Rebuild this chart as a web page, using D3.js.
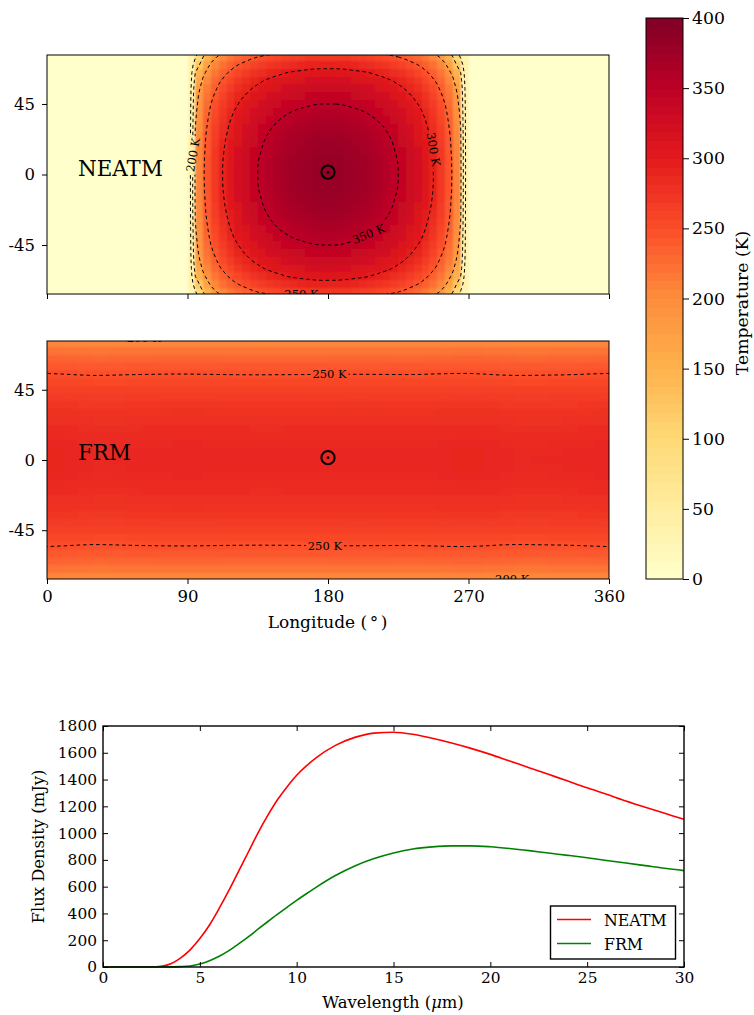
<!DOCTYPE html>
<html><head><meta charset="utf-8">
<script src="https://cdn.jsdelivr.net/npm/d3@7"></script>
<style>
html,body{margin:0;padding:0;background:#fff}
text{font-family:"DejaVu Serif",serif;fill:#000}
svg{display:block}
</style></head><body>
<svg id="chart" width="754" height="1015"></svg>
<script>
// ---------- DATA ----------
const latBands = [0,5,10,15,20,25,30,35,40,45,50,55,60,65,70,75,80];
const sunOffsets = [0,5,10,15,20,25,30,35,40,45,50,55,60,65,70,75,80,85,90];
// NEATM surface temperature (K): rows = |latitude|, columns = |longitude - 180|
const neatmTemps = [
[382,382,381,379,376,373,369,363,357,350,342,332,321,308,292,272,247,208,35],
[382,381,380,378,376,372,368,363,357,350,342,332,321,308,292,272,246,207,35],
[381,380,379,377,375,371,367,362,356,349,341,331,320,307,291,271,246,207,35],
[379,378,377,375,373,369,365,360,354,347,339,330,318,305,290,270,244,206,35],
[376,376,375,373,370,367,363,358,352,345,337,327,316,303,288,268,243,204,35],
[373,372,371,369,367,364,360,355,349,342,334,324,313,300,285,266,241,203,35],
[369,368,367,365,363,360,355,351,345,338,330,321,310,297,282,263,238,200,35],
[363,363,362,360,358,355,351,346,340,333,325,316,306,293,278,259,235,197,35],
[357,357,356,354,352,349,345,340,334,328,320,311,301,288,273,255,231,194,35],
[350,350,349,347,345,342,338,333,328,321,314,305,295,282,268,250,226,190,35],
[342,342,341,339,337,334,330,325,320,314,306,298,288,276,262,244,221,186,35],
[332,332,331,330,327,324,321,316,311,305,298,289,280,268,254,237,215,178,35],
[321,321,320,318,316,313,310,306,301,295,288,280,270,259,246,229,205,165,35],
[308,308,307,305,303,301,297,293,288,282,276,268,259,248,236,218,193,150,35],
[292,292,291,290,288,285,282,278,273,268,262,254,246,236,223,205,172,125,35],
[273,272,271,270,268,266,263,259,255,250,244,237,229,220,205,185,150,95,30],
[247,246,246,244,243,241,238,235,231,226,221,215,207,195,175,160,130,80,25]
];
// FRM temperature (K) per |latitude| and its small change with longitude (every 10 deg)
const frmTemps = [287,286.7,285.9,284.5,282.6,280,276.9,273,268.5,263.2,257,249.8,241.3,231.4,219.5,204.7,194];
const frmLons = [0,10,20,30,40,50,60,70,80,90,100,110,120,130,140,150,160,170,180,190,200,210,220,230,240,250,260,270,280,290,300,310,320,330,340,350,360];
const frmLonChange = [1,.3,-.5,-1,-.8,-.4,-.1,.1,.3,.3,.1,-.1,-.3,-.4,-.4,-.3,-.2,-.1,0,.1,.1,0,-.1,-.2,0,.5,.9,1,.3,-.6,-1,-.9,-.7,-.5,-.1,.5,1];
const contourLevels = [100,150,200,250,300,350];
const subSolar = [180,1.5];

const neatmLabels = [
  {text:"200 K",lon:93.5,lat:12.5,rot:-80},
  {text:"300 K",lon:247.5,lat:16,rot:80},
  {text:"350 K",lon:206,lat:-38,rot:-22},
  {text:"250 K",lon:163,lat:-76.5,rot:0}
];
const frmLabels = [
  {text:"250 K",lon:181,lat:55,rot:0},
  {text:"250 K",lon:178,lat:-55,rot:0},
  {text:"200 K",lon:298,lat:-76.5,rot:0},
  {text:"200 K",lon:62,lat:78,rot:0}
];

const lonTicks = [0,90,180,270,360];
const latTicks = [-45,0,45];
const cbarTicks = [0,50,100,150,200,250,300,350,400];
const ylOrRd = ["#ffffcc","#ffeda0","#fed976","#feb24c","#fd8d3c","#fc4e2a","#e31a1c","#bd0026","#800026"];

const wavelengths = [0,1,2,2.5,3,3.5,4,4.5,5,5.5,6,6.5,7,7.5,8,8.5,9,9.5,10,10.5,11,12,13,14,15,16,17,18,19,20,21,22,23,24,25,26,27,28,29,30];
const neatmFlux = [0,0,0,0,5,25,67,128,212,314,438,572,715,857,1000,1130,1247,1345,1432,1502,1562,1655,1715,1747,1753,1738,1708,1673,1633,1588,1538,1489,1439,1389,1338,1290,1240,1193,1148,1103];
const frmFlux = [0,0,0,0,0,1,3,8,22,47,80,122,172,225,282,338,393,446,497,547,595,683,755,810,852,881,897,905,905,898,885,869,851,834,816,796,777,757,737,720];
const fluxTicks = [0,200,400,600,800,1000,1200,1400,1600,1800];
const waveTicks = [0,5,10,15,20,25,30];
const legendNames = ["NEATM","FRM"];
const legendColors = ["#ff0000","#008000"];

// ---------- HELPERS ----------
const svg = d3.select("#chart");
const color = d3.scaleLinear().domain(d3.range(9).map(i=>i*50)).range(ylOrRd).interpolate(d3.interpolateRgb).clamp(true);
const FS = 16.5;
const xs = (x0,x1)=>d3.scaleLinear().domain([0,360]).range([x0,x1]);

function styleAxis(g){
  g.selectAll("path.domain").remove();
  g.selectAll("line").attr("stroke","#000").attr("stroke-width",1);
  g.selectAll("text").attr("font-size",FS).attr("font-family","DejaVu Serif").attr("fill","#000");
}

const rootDefs=svg.append("defs");
rootDefs.append("filter").attr("id","soft").attr("filterUnits","userSpaceOnUse")
  .attr("x",0).attr("y",0).attr("width",754).attr("height",700)
  .append("feGaussianBlur").attr("stdDeviation",.8);

function drawMap(id,top,bottom,grid,lonList,cells,labels,name,showLonLabels){
  const left=47,right=609;
  const x=xs(left,right);
  const y=d3.scaleLinear().domain([-76.25,76.25]).range([bottom,top]);
  const g=svg.append("g").attr("id",id);
  const clipId="clip-"+id, maskId="mask-"+id;
  const defs=g.append("defs");
  defs.append("clipPath").attr("id",clipId).append("rect").attr("x",left).attr("y",top).attr("width",right-left).attr("height",bottom-top);
  const plot=g.append("g").attr("clip-path",`url(#${clipId})`);
  plot.append("g").attr("filter","url(#soft)").selectAll("rect").data(cells).join("rect")
    .attr("x",d=>x(d.lon0)-(d.lon0===0?8:0)).attr("width",d=>x(d.lon1)-x(d.lon0)+(d.lon0===0||d.lon1===360?8:0))
    .attr("y",d=>y(d.lat+2.5)).attr("height",d=>y(d.lat-2.5)-y(d.lat+2.5))
    .attr("fill",d=>color(d.t)).attr("shape-rendering","crispEdges");

  // contours
  const ny=grid.lats.length, nx=lonList.length;
  const contours=d3.contours().size([nx,ny]).smooth(true).thresholds(contourLevels)(grid.values);
  const stepLon=lonList[1]-lonList[0], stepLat=grid.lats[1]-grid.lats[0];
  const path=d3.geoPath(d3.geoTransform({point(px,py){
    this.stream.point(x(lonList[0]+(px-.5)*stepLon), y(grid.lats[0]+(py-.5)*stepLat));
  }}));
  const mask=defs.append("mask").attr("id",maskId).attr("maskUnits","userSpaceOnUse")
    .attr("x",0).attr("y",0).attr("width",754).attr("height",1015);
  mask.append("rect").attr("x",0).attr("y",0).attr("width",754).attr("height",1015).attr("fill","#fff");
  mask.selectAll("rect.gap").data(labels).join("rect").attr("class","gap")
    .attr("x",-19).attr("y",-6).attr("width",38).attr("height",12).attr("fill","#000")
    .attr("transform",d=>`translate(${x(d.lon)},${y(d.lat)}) rotate(${d.rot})`);
  plot.append("g").attr("mask",`url(#${maskId})`).selectAll("path").data(contours).join("path")
    .attr("d",path).attr("fill","none").attr("stroke","#000").attr("stroke-width",1).attr("stroke-dasharray","3.5 3");
  plot.selectAll("text.clabel").data(labels).join("text").attr("class","clabel")
    .attr("text-anchor","middle").attr("dominant-baseline","central").attr("font-size",11.5)
    .attr("transform",d=>`translate(${x(d.lon)},${y(d.lat)}) rotate(${d.rot})`).text(d=>d.text);

  // sub-solar symbol
  g.append("circle").attr("cx",x(subSolar[0])).attr("cy",y(subSolar[1])).attr("r",6.6).attr("fill","none").attr("stroke","#000").attr("stroke-width",2);
  g.append("circle").attr("cx",x(subSolar[0])).attr("cy",y(subSolar[1])).attr("r",1.4).attr("fill","#000");

  // frame
  g.append("rect").attr("x",left).attr("y",top).attr("width",right-left).attr("height",bottom-top).attr("fill","none").attr("stroke","#000").attr("stroke-width",1);
  // axes
  const ax=g.append("g").attr("transform",`translate(0,${bottom})`)
    .call(d3.axisBottom(x).tickValues(lonTicks).tickSize(5).tickPadding(6).tickFormat(showLonLabels?d3.format("d"):""));
  styleAxis(ax);
  const ay=g.append("g").attr("transform",`translate(${left},0)`)
    .call(d3.axisLeft(y).tickValues(latTicks).tickSize(5).tickPadding(7).tickFormat(d=>String(d)));
  styleAxis(ay);
  g.append("text").attr("x",78).attr("y",y(0)+(id==="neatm"?1:0)).attr("font-size",21.4).text(name);
  return {x,y};
}

// NEATM grids
const neatmContourLons=d3.range(0,361,5);
const signedLats=[...latBands.slice().reverse().map(d=>-d),...latBands.slice(1)];
function neatmAt(lat,lon){
  const off=Math.abs(lon-180);
  const i=sunOffsets.indexOf(off);
  if(i<0) return 0;
  return neatmTemps[latBands.indexOf(Math.abs(lat))][i];
}
const neatmValues=[];
signedLats.forEach(lat=>neatmContourLons.forEach(lon=>neatmValues.push(neatmAt(lat,lon))));
const neatmCells=[];
signedLats.filter(l=>Math.abs(l)<=75).forEach(lat=>{
  d3.range(0,360,5).forEach(lon0=>{
    const mid=lon0+2.5, outer=Math.abs(mid-180)+2.5;
    neatmCells.push({lat,lon0,lon1:lon0+5,t:neatmAt(lat,mid<180?180-outer:180+outer)});
  });
});
drawMap("neatm",55,294,{lats:signedLats,values:neatmValues},neatmContourLons,neatmCells,neatmLabels,"NEATM",false);

// FRM grids
const frmValues=[];
signedLats.forEach(lat=>frmLons.forEach((lon,i)=>frmValues.push(frmTemps[latBands.indexOf(Math.abs(lat))]+frmLonChange[i])));
const frmCells=[];
signedLats.filter(l=>Math.abs(l)<=75).forEach(lat=>{
  frmLons.slice(0,-1).forEach((lon,i)=>{
    frmCells.push({lat,lon0:lon,lon1:lon+10,t:frmTemps[latBands.indexOf(Math.abs(lat))]+frmLonChange[i]});
  });
});
drawMap("frm",341,579,{lats:signedLats,values:frmValues},frmLons,frmCells,frmLabels,"FRM",true);
const lonLabel=svg.append("text").attr("x",327.5).attr("y",627.5).attr("text-anchor","middle").attr("font-size",17);
lonLabel.append("tspan").text("Longitude (");
lonLabel.append("tspan").attr("dx",2.5).text("°");
lonLabel.append("tspan").attr("dx",2.5).text(")");

// colourbar
const cb=svg.append("g").attr("id","colorbar");
const cy=d3.scaleLinear().domain([0,400]).range([579,18]);
const levels=d3.range(0,400,400/64);
cb.selectAll("rect").data(levels).join("rect")
  .attr("x",646).attr("width",37).attr("y",d=>cy(d+400/64)).attr("height",d=>cy(d)-cy(d+400/64)+.5)
  .attr("fill",d=>color(d+200/64)).attr("shape-rendering","crispEdges");
cb.append("rect").attr("x",646).attr("y",18).attr("width",37).attr("height",561).attr("fill","none").attr("stroke","#000").attr("stroke-width",1);
const cax=cb.append("g").attr("transform","translate(683,0)").call(d3.axisRight(cy).tickValues(cbarTicks).tickSize(6).tickPadding(3).tickFormat(d3.format("d")));
styleAxis(cax); cax.selectAll("text").attr("font-size",17.3);
cb.append("text").attr("transform","translate(748,303) rotate(-90)").attr("text-anchor","middle").attr("font-size",17.2).text("Temperature (K)");

// spectrum
const sp=svg.append("g").attr("id","spectrum");
const L=103,R=684,T=726,B=967;
const sx=d3.scaleLinear().domain([0,30]).range([L,R]);
const sy=d3.scaleLinear().domain([0,1800]).range([B,T]);
const line=d3.line().x((d,i)=>sx(wavelengths[i])).y(d=>sy(d)).curve(d3.curveMonotoneX);
sp.append("path").datum(neatmFlux).attr("d",line).attr("fill","none").attr("stroke",legendColors[0]).attr("stroke-width",1.6);
sp.append("path").datum(frmFlux).attr("d",line).attr("fill","none").attr("stroke",legendColors[1]).attr("stroke-width",1.6);
sp.append("rect").attr("x",L).attr("y",T).attr("width",R-L).attr("height",B-T).attr("fill","none").attr("stroke","#000").attr("stroke-width",1.4);
const sa=sp.append("g").attr("transform",`translate(0,${B})`).call(d3.axisBottom(sx).tickValues(waveTicks).tickSize(-5).tickPadding(5).tickFormat(d3.format("d")));
styleAxis(sa); sa.selectAll("text").attr("font-size",15.4);
const sat=sp.append("g").attr("transform",`translate(0,${T})`).call(d3.axisTop(sx).tickValues(waveTicks).tickSize(-5).tickFormat(""));
styleAxis(sat);
const sl=sp.append("g").attr("transform",`translate(${L},0)`).call(d3.axisLeft(sy).tickValues(fluxTicks).tickSize(-5).tickPadding(6).tickFormat(d3.format("d")));
styleAxis(sl); sl.selectAll("text").attr("font-size",15.4);
const sr=sp.append("g").attr("transform",`translate(${R},0)`).call(d3.axisRight(sy).tickValues(fluxTicks).tickSize(-5).tickFormat(""));
styleAxis(sr);
const xlab=sp.append("text").attr("x",393).attr("y",1008).attr("text-anchor","middle").attr("font-size",16.4);
xlab.append("tspan").text("Wavelength (");
xlab.append("tspan").attr("font-style","italic").text("\u03bc");
xlab.append("tspan").text("m)");
sp.append("text").attr("transform","translate(44,846.5) rotate(-90)").attr("text-anchor","middle").attr("font-size",16.4).text("Flux Density (mJy)");

// legend
const lg=sp.append("g").attr("id","legend");
lg.append("rect").attr("x",550.5).attr("y",906).attr("width",125).attr("height",53).attr("fill","#fff").attr("stroke","#000").attr("stroke-width",1.4);
legendNames.forEach((n,i)=>{
  const yy=919.5+i*24;
  lg.append("line").attr("x1",557).attr("x2",591).attr("y1",yy).attr("y2",yy).attr("stroke",legendColors[i]).attr("stroke-width",1.6);
  lg.append("text").attr("x",604).attr("y",yy+6).attr("font-size",15.8).text(n);
});
</script>
</body></html>
